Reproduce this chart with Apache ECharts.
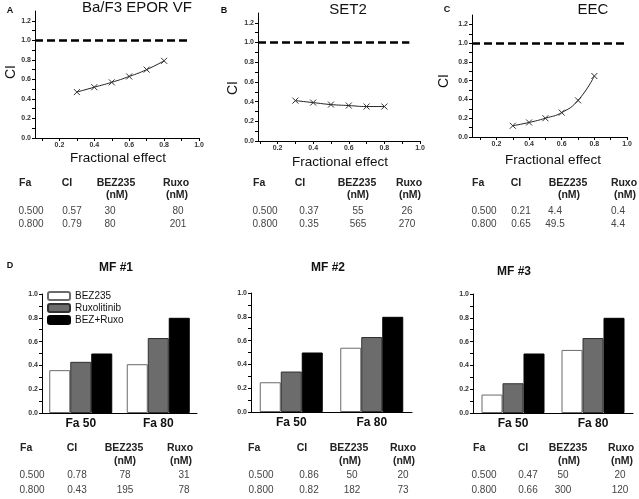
<!DOCTYPE html>
<html><head><meta charset="utf-8">
<script src="https://cdn.jsdelivr.net/npm/echarts@6/dist/echarts.min.js"></script>
<style>html,body{margin:0;padding:0;background:#fff}#c{width:639px;height:499px}</style>
</head><body><div id="c"></div>
<script>
// ---- data ----
const faPoints = [0.3, 0.4, 0.5, 0.6, 0.7, 0.8];
const ciBaF3 = [0.47, 0.52, 0.57, 0.63, 0.70, 0.79];
const ciSET2 = [0.41, 0.39, 0.37, 0.36, 0.35, 0.35];
const ciEEC = [0.12, 0.155, 0.20, 0.26, 0.39, 0.65];
const lineTitles = ['Ba/F3 EPOR VF', 'SET2', 'EEC'];
const panelLetters = ['A', 'B', 'C'];
const faTickLabels = [0.2, 0.4, 0.6, 0.8, 1.0];
const ciTickLabels = [0.0, 0.2, 0.4, 0.6, 0.8, 1.0, 1.2];
const additivityCI = 1.0;

const barCategories = ['Fa 50', 'Fa 80'];
const barSeriesNames = ['BEZ235', 'Ruxolitinib', 'BEZ+Ruxo'];
const mfTitles = ['MF #1', 'MF #2', 'MF #3'];
const mf1BEZ = [0.36, 0.41], mf1Ruxo = [0.43, 0.63], mf1Comb = [0.50, 0.80];
const mf2BEZ = [0.25, 0.54], mf2Ruxo = [0.34, 0.63], mf2Comb = [0.50, 0.80];
const mf3BEZ = [0.155, 0.53], mf3Ruxo = [0.25, 0.63], mf3Comb = [0.50, 0.80];
const barTickLabels = [0.0, 0.2, 0.4, 0.6, 0.8, 1.0];

const tableHeaders = ['Fa', 'CI', 'BEZ235', 'Ruxo'];
const tableUnits = ['', '', '(nM)', '(nM)'];
const tableA = [['0.500', '0.57', '30', '80'], ['0.800', '0.79', '80', '201']];
const tableB = [['0.500', '0.37', '55', '26'], ['0.800', '0.35', '565', '270']];
const tableC = [['0.500', '0.21', '4.4', '0.4'], ['0.800', '0.65', '49.5', '4.4']];
const tableMF1 = [['0.500', '0.78', '78', '31'], ['0.800', '0.43', '195', '78']];
const tableMF2 = [['0.500', '0.86', '50', '20'], ['0.800', '0.82', '182', '73']];
const tableMF3 = [['0.500', '0.47', '50', '20'], ['0.800', '0.66', '300', '120']];

// ---- layout ----
const lineGrids = [
  {left: 35, top: 11, width: 164, height: 127, xmin: 0.06, dashEnd: 0.94},
  {left: 258, top: 13, width: 162, height: 128, xmin: 0.09, dashEnd: 0.94},
  {left: 472, top: 15, width: 155, height: 122, xmin: 0.05, dashEnd: 1.0}
];
const lineData = [ciBaF3, ciSET2, ciEEC];
const barGrids = [
  {left: 42, top: 294, width: 155, height: 119},
  {left: 251, top: 293, width: 161, height: 119},
  {left: 473, top: 294, width: 160, height: 119}
];
const barData = [[mf1BEZ, mf1Ruxo, mf1Comb], [mf2BEZ, mf2Ruxo, mf2Comb], [mf3BEZ, mf3Ruxo, mf3Comb]];
const barStyles = [
  {color: '#ffffff', borderColor: '#6a6a6a', borderWidth: 1},
  {color: '#6c6c6c', borderColor: '#303030', borderWidth: 1},
  {color: '#000000', borderColor: '#000000', borderWidth: 1}
];

const step = (a, b, s) => { const r = []; for (let v = a; v <= b + 1e-9; v += s) r.push(+v.toFixed(2)); return r; };
const labelFont = {fontSize: 7, fontWeight: 'bold', color: '#333', fontFamily: 'Liberation Sans'};
const axisLineStyle = {show: true, lineStyle: {color: '#000', width: 1}};

const grids = [], xAxes = [], yAxes = [], series = [];
lineGrids.forEach((g, i) => {
  grids.push({left: g.left, top: g.top, width: g.width, height: g.height});
  xAxes.push({
    type: 'value', gridIndex: i, min: g.xmin, max: 1.0,
    axisLine: axisLineStyle, splitLine: {show: false},
    axisTick: {show: true, length: 3, inside: false, customValues: step(0.1, 1.0, 0.1).filter(v => v >= g.xmin), lineStyle: {color: '#000'}},
    axisLabel: Object.assign({customValues: faTickLabels, formatter: v => v.toFixed(1), margin: 4}, labelFont)
  });
  yAxes.push({
    type: 'value', gridIndex: i, min: 0, max: 1.3,
    axisLine: axisLineStyle, splitLine: {show: false},
    axisTick: {show: true, length: 3, customValues: step(0, 1.2, 0.1), lineStyle: {color: '#000'}},
    axisLabel: Object.assign({customValues: ciTickLabels, formatter: v => v.toFixed(1), margin: 4}, labelFont)
  });
  series.push({
    type: 'line', xAxisIndex: i, yAxisIndex: i, smooth: true,
    data: faPoints.map((x, k) => [x, lineData[i][k]]),
    symbol: 'path://M0,0L10,10M10,0L0,10', symbolSize: 6,
    itemStyle: {color: 'rgba(0,0,0,0)', borderColor: '#333', borderWidth: 1},
    lineStyle: {color: '#222', width: 1},
    markLine: {
      silent: true, symbol: 'none', label: {show: false},
      lineStyle: {color: '#000', width: 2.5, type: [8, 4]},
      data: [[{coord: [g.xmin, additivityCI]}, {coord: [g.dashEnd, additivityCI]}]]
    },
    z: 3
  });
});
barGrids.forEach((g, j) => {
  const gi = 3 + j;
  grids.push({left: g.left, top: g.top, width: g.width, height: g.height});
  xAxes.push({
    type: 'category', gridIndex: gi, data: barCategories,
    axisLine: axisLineStyle, axisTick: {show: false},
    axisLabel: {fontSize: 12, fontWeight: 'bold', color: '#111', margin: 5, fontFamily: 'Liberation Sans'}
  });
  yAxes.push({
    type: 'value', gridIndex: gi, min: 0, max: 1.0, interval: 0.2,
    axisLine: axisLineStyle, splitLine: {show: false},
    axisTick: {show: true, length: 3, customValues: step(0, 1.0, 0.1), lineStyle: {color: '#000'}},
    axisLabel: Object.assign({customValues: barTickLabels, formatter: v => v.toFixed(1), margin: 4}, labelFont)
  });
  barSeriesNames.forEach((name, s) => {
    series.push({
      type: 'bar', name: name, xAxisIndex: gi, yAxisIndex: gi,
      data: barData[j][s], barWidth: 21, barGap: '0%',
      itemStyle: barStyles[s]
    });
  });
});

// ---- text (titles, labels, tables) ----
const graphic = [];
const txt = (text, x, y, font, opts) => graphic.push(Object.assign({
  type: 'text', x: x, y: y,
  style: Object.assign({text: text, font: font, fill: '#111', textAlign: 'center', textVerticalAlign: 'middle'}, opts || {})
}, (opts && opts.rot) ? {rotation: opts.rot} : {}));

const titlePos = [[137, 8], [348, 10], [593, 10]];
lineTitles.forEach((t, i) => txt(t, titlePos[i][0], titlePos[i][1], '15px "Liberation Sans"'));
const letterPos = [[10, 11], [224, 11], [447, 10]];
panelLetters.forEach((t, i) => txt(t, letterPos[i][0], letterPos[i][1], 'bold 9px "Liberation Sans"'));
const ciNamePos = [[11, 72], [233, 88], [444, 81]];
ciNamePos.forEach(p => txt('CI', p[0], p[1], '14px "Liberation Sans"', {rot: Math.PI / 2}));
const fxPos = [[118, 158], [340, 162], [553, 160]];
fxPos.forEach(p => txt('Fractional effect', p[0], p[1], '13.5px "Liberation Sans"'));
txt('D', 10, 266, 'bold 9px "Liberation Sans"');
const mfPos = [[116, 268], [328, 268], [514, 272]];
mfTitles.forEach((t, i) => txt(t, mfPos[i][0], mfPos[i][1], 'bold 12px "Liberation Sans"'));

function drawTable(rows, hx, vx, yH, yU, yR1, yR2) {
  tableHeaders.forEach((h, c) => {
    txt(h, hx[c], yH, 'bold 10.5px "Liberation Sans"', c === 0 ? {textAlign: 'left', fill: '#222'} : {fill: '#222'});
    if (tableUnits[c]) txt(tableUnits[c], hx[c] + 1, yU, 'bold 10.5px "Liberation Sans"', {fill: '#222'});
  });
  rows.forEach((r, k) => r.forEach((v, c) =>
    txt(v, vx[c], k === 0 ? yR1 : yR2, '10px "Liberation Sans"', {fill: '#444'})));
}
drawTable(tableA, [19, 67, 116, 176], [31, 72, 110, 178], 183, 195, 211, 224);
drawTable(tableB, [253, 300, 357, 409], [265, 309, 358, 407], 183, 195, 211, 224);
drawTable(tableC, [472, 516, 568, 624], [484, 521, 555, 618], 183, 195, 211, 224);
drawTable(tableMF1, [20, 72, 124, 180], [32, 77, 125, 184], 448, 461, 475, 490);
drawTable(tableMF2, [248, 302, 349, 403], [261, 309, 352, 403], 448, 461, 475, 490);
drawTable(tableMF3, [473, 523, 568, 621], [484, 528, 563, 620], 448, 461, 475, 490);

const chart = echarts.init(document.getElementById('c'), null, {renderer: 'canvas'});
chart.setOption({
  animation: false,
  backgroundColor: '#fff',
  textStyle: {fontFamily: 'Liberation Sans'},
  grid: grids, xAxis: xAxes, yAxis: yAxes, series: series,
  legend: {
    data: barSeriesNames, orient: 'vertical', left: 47, top: 291,
    itemWidth: 22, itemHeight: 8, itemGap: 2, padding: 0,
    textStyle: {fontSize: 10, color: '#111', fontFamily: 'Liberation Sans'},
    selectedMode: false
  },
  graphic: graphic
});
</script></body></html>
